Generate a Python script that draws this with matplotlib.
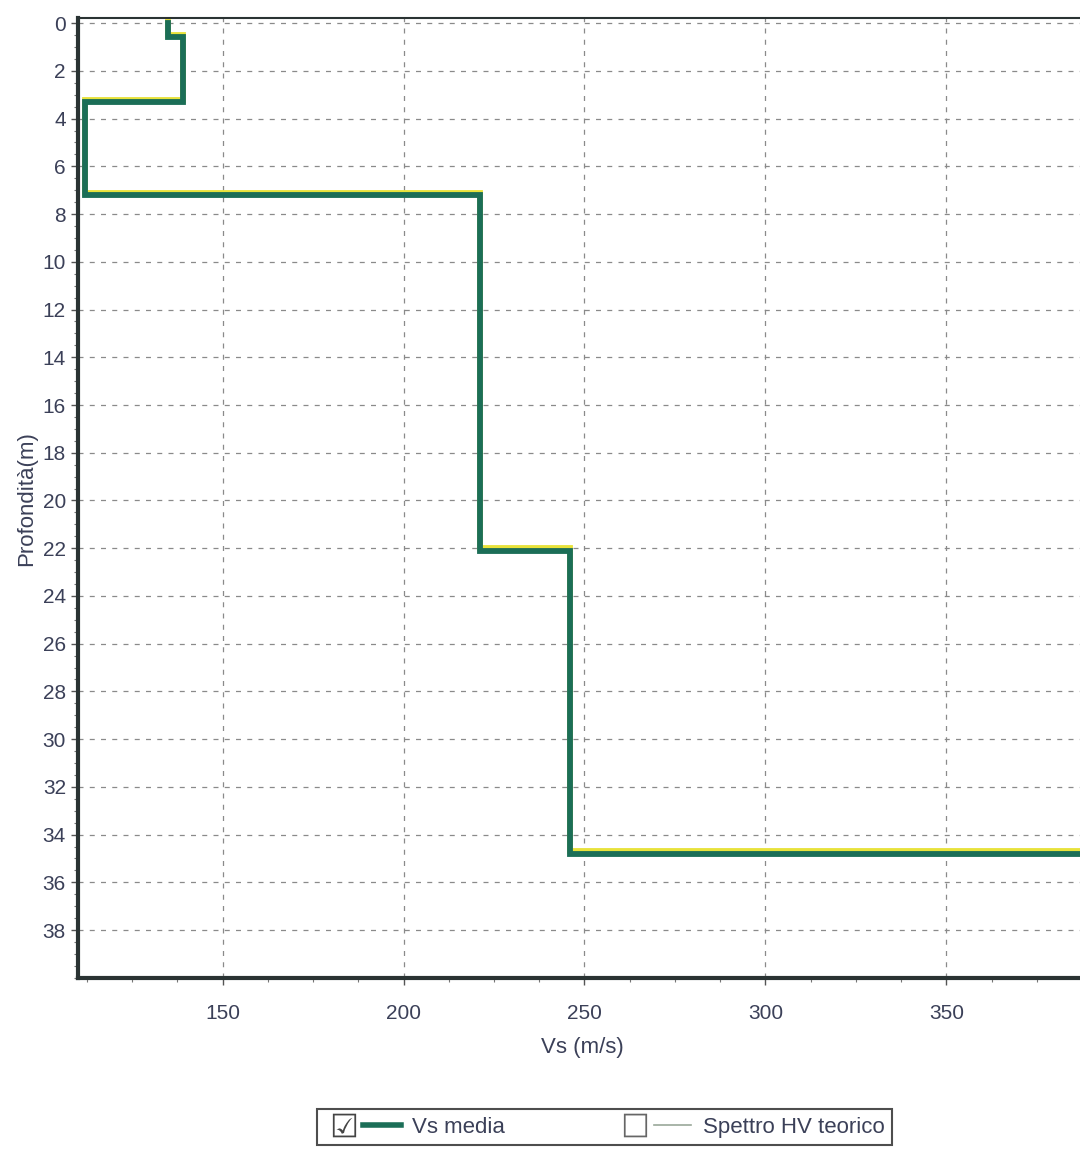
import numpy as np
import matplotlib.pyplot as plt
import matplotlib.patheffects as path_effects
from matplotlib.lines import Line2D
from matplotlib.legend_handler import HandlerTuple
from matplotlib.ticker import MultipleLocator

plt.rcParams.update({
    "font.family": ["Liberation Sans Narrow", "Liberation Sans", "DejaVu Sans"],
    "font.size": 14,
})

# Vs profile (step function): velocity per layer and layer boundaries (m)
vs_layers = [135, 139, 112, 221, 246, 400]
depth_tops = [0.0, 0.6, 3.3, 7.2, 22.1, 34.8]
depth_max = 40.0

x_ticks = [150, 200, 250, 300, 350]
y_ticks = list(range(0, 40, 2))

# build the staircase from the layers
xs, ys = [], []
for i, v in enumerate(vs_layers):
    top = depth_tops[i]
    bot = depth_tops[i + 1] if i + 1 < len(depth_tops) else depth_max
    xs += [v, v]
    ys += [top, bot]

fig = plt.figure(figsize=(10.8, 11.49), dpi=100)
ax = fig.add_axes([0.072, 0.149, 0.935, 0.835])

tick_col = "#3b4058"
green = "#1b6e57"

ax.plot(xs, ys, color=green, lw=4.2, solid_joinstyle="miter",
        path_effects=[path_effects.SimpleLineShadow(offset=(0, 1.6), shadow_color="#e8e23a", alpha=1.0),
                      path_effects.Normal()])

ax.set_xticks(x_ticks)
ax.set_yticks(y_ticks)
ax.set_xlim(110, 389)
ax.set_ylim(40, -0.2)
ax.xaxis.set_minor_locator(MultipleLocator(12.5))
ax.yaxis.set_minor_locator(MultipleLocator(0.5))
ax.tick_params(axis="both", which="major", length=5, width=1, color="#555555",
               labelcolor=tick_col, labelsize=15)
ax.tick_params(axis="both", which="minor", length=3, width=0.8, color="#777777")
ax.tick_params(axis="x", pad=14)

ax.grid(True, which="major", linestyle=(0, (4, 5)), color="#8a8a8a", lw=0.9)

for side in ["left", "bottom"]:
    ax.spines[side].set_linewidth(3)
    ax.spines[side].set_color("#2a3333")
ax.spines["top"].set_linewidth(1.5)
ax.spines["top"].set_color("#2a3333")
ax.spines["right"].set_visible(False)

ax.set_xlabel("Vs (m/s)", color=tick_col, fontsize=16, labelpad=10)
ax.set_ylabel("Profondità(m)", color=tick_col, fontsize=16, labelpad=4,
              family=["Liberation Sans", "DejaVu Sans"])

# legend with check boxes in front of each line sample
box_on = Line2D([], [], ls="none", marker="$\u2611$", markersize=17,
                color="#444444", markeredgewidth=0)
box_off = Line2D([], [], ls="none", marker="$\u2610$", markersize=17,
                 color="#666666", markeredgewidth=0)
handles = [(box_on, Line2D([], [], color=green, lw=4)),
           (box_off, Line2D([], [], color="#9aa89a", lw=1.2))]
labels = ["Vs media", "Spettro HV teorico"]
leg = fig.legend(handles, labels, loc="center", bbox_to_anchor=(0.56, 0.019),
                 ncol=2, frameon=True, fancybox=False, fontsize=16,
                 handlelength=3.4, handletextpad=0.5, columnspacing=5.0,
                 borderpad=0.35, borderaxespad=0.3, labelcolor=tick_col,
                 handler_map={tuple: HandlerTuple(ndivide=None, pad=0.0)})
leg.get_frame().set_edgecolor("#222222")
leg.get_frame().set_linewidth(1.5)

fig.savefig("out.png", dpi=100)
